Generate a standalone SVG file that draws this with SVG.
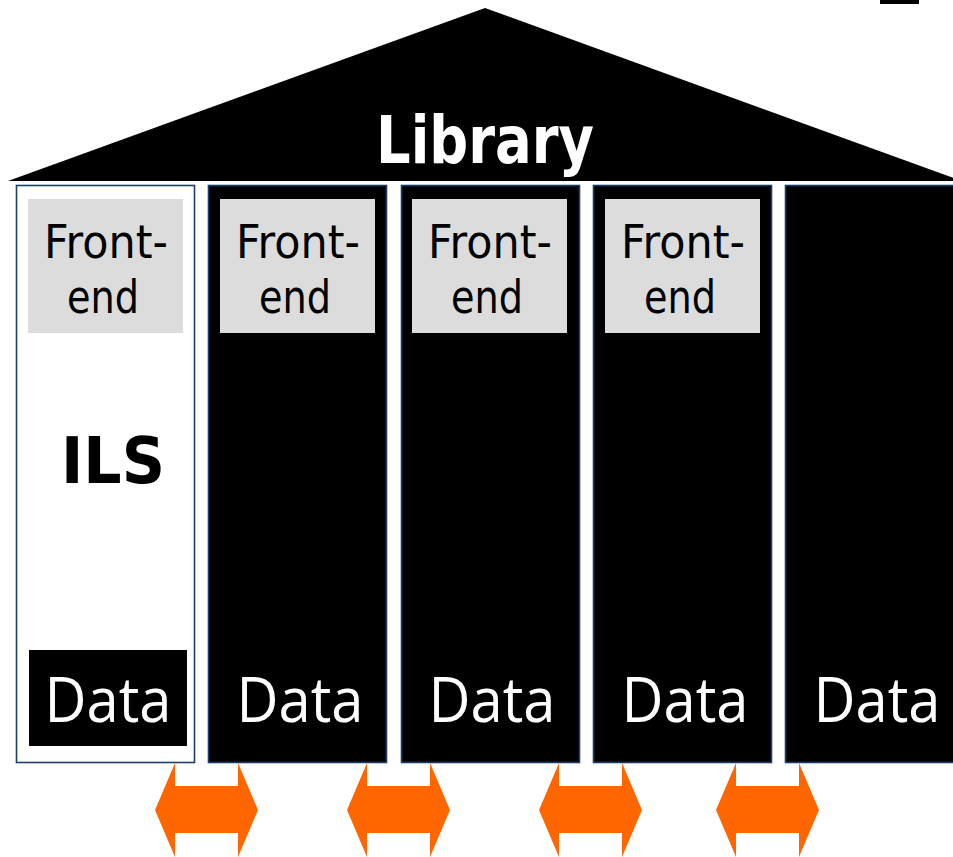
<svg xmlns="http://www.w3.org/2000/svg" width="953" height="857" viewBox="0 0 953 857">
<style>
.col{stroke:#1b3f6e;stroke-width:1.6}
.fe{fill:#dcdcdc}
.fet{font-family:"DejaVu Sans",sans-serif;font-size:46px;fill:#000;text-anchor:middle}
.data{font-family:"Open Sans","DejaVu Sans",sans-serif;font-size:62px;fill:#fff;text-anchor:middle}
.arrow{fill:#ff6600}
</style>
<defs>
<polygon id="dbl" class="arrow" points="0,47 20,0 20,23 83,23 83,0 103,47 83,94 83,70 20,70 20,94"/>
</defs>
<rect x="880" y="0" width="39" height="4" fill="#000"/>
<g id="roof">
<polygon points="8,181 485,8 962,181" fill="#000"/>
<text x="485" y="163" font-family="'DejaVu Sans',sans-serif" font-weight="bold" font-size="66" fill="#fff" text-anchor="middle" textLength="218" lengthAdjust="spacingAndGlyphs">Library</text>
</g>
<g id="ils">
<rect class="col" x="16.5" y="185.5" width="178" height="577" fill="#fff"/>
<rect class="fe" x="28" y="199" width="155" height="134"/>
<text class="fet" x="106" y="258" textLength="124" lengthAdjust="spacingAndGlyphs">Front-</text>
<text class="fet" x="103" y="313" textLength="72" lengthAdjust="spacingAndGlyphs">end</text>
<text x="113" y="483" font-family="'DejaVu Sans',sans-serif" font-weight="bold" font-size="64" fill="#000" text-anchor="middle" textLength="104" lengthAdjust="spacingAndGlyphs">ILS</text>
<rect x="29" y="650" width="158" height="96" fill="#000"/>
<text class="data" x="108" y="722" textLength="127" lengthAdjust="spacingAndGlyphs">Data</text>
</g>
<g id="col2">
<rect class="col" x="208.5" y="185.5" width="178" height="577" fill="#000"/>
<rect class="fe" x="220" y="199" width="155" height="134"/>
<text class="fet" x="298" y="258" textLength="124" lengthAdjust="spacingAndGlyphs">Front-</text>
<text class="fet" x="295" y="313" textLength="72" lengthAdjust="spacingAndGlyphs">end</text>
<text class="data" x="300" y="722" textLength="127" lengthAdjust="spacingAndGlyphs">Data</text>
</g>
<g id="col3">
<rect class="col" x="401.5" y="185.5" width="178" height="577" fill="#000"/>
<rect class="fe" x="412" y="199" width="155" height="134"/>
<text class="fet" x="490" y="258" textLength="124" lengthAdjust="spacingAndGlyphs">Front-</text>
<text class="fet" x="487" y="313" textLength="72" lengthAdjust="spacingAndGlyphs">end</text>
<text class="data" x="492" y="722" textLength="127" lengthAdjust="spacingAndGlyphs">Data</text>
</g>
<g id="col4">
<rect class="col" x="593.5" y="185.5" width="178" height="577" fill="#000"/>
<rect class="fe" x="605" y="199" width="155" height="134"/>
<text class="fet" x="683" y="258" textLength="124" lengthAdjust="spacingAndGlyphs">Front-</text>
<text class="fet" x="680" y="313" textLength="72" lengthAdjust="spacingAndGlyphs">end</text>
<text class="data" x="685" y="722" textLength="127" lengthAdjust="spacingAndGlyphs">Data</text>
</g>
<g id="col5">
<rect class="col" x="785.5" y="185.5" width="178" height="577" fill="#000"/>
<text class="data" x="877" y="722" textLength="127" lengthAdjust="spacingAndGlyphs">Data</text>
</g>
<g id="connectors">
<use href="#dbl" x="155" y="763"/>
<use href="#dbl" x="347" y="763"/>
<use href="#dbl" x="539" y="763"/>
<use href="#dbl" x="716" y="763"/>
</g>
</svg>
